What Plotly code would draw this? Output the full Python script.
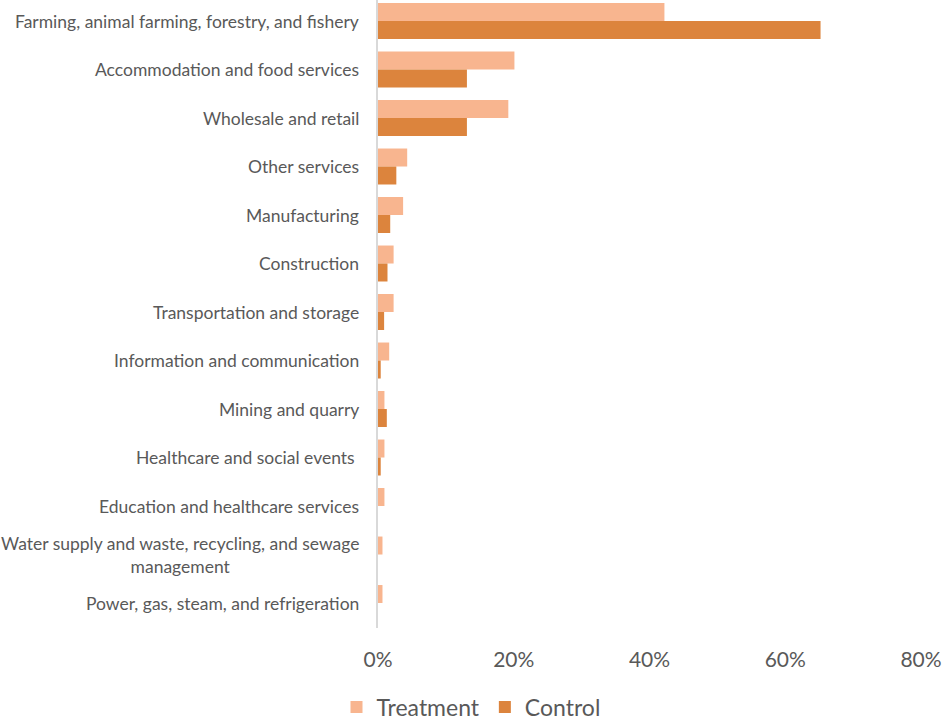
import plotly.graph_objects as go

# Sector distribution of respondents (share of group, %)
categories = [
    "Farming, animal farming, forestry, and fishery",
    "Accommodation and food services",
    "Wholesale and retail",
    "Other services",
    "Manufacturing",
    "Construction",
    "Transportation and storage",
    "Information and communication",
    "Mining and quarry",
    "Healthcare and social events ",
    "Education and healthcare services",
    "Water supply and waste, recycling, and sewage<br>management",
    "Power, gas, steam, and refrigeration",
]
treatment = [42.2, 20.1, 19.2, 4.3, 3.7, 2.3, 2.3, 1.65, 0.95, 0.95, 0.95, 0.66, 0.66]
control = [65.2, 13.1, 13.1, 2.7, 1.8, 1.4, 0.9, 0.4, 1.3, 0.4, 0.0, 0.0, 0.0]
x_ticks = [0, 20, 40, 60, 80]
x_tick_labels = ["0%", "20%", "40%", "60%", "80%"]

TEXT = "#595959"
FONT = "Lato"

fig = go.Figure()
fig.add_trace(go.Bar(
    y=list(range(len(categories))), x=treatment, orientation="h", name="Treatment",
    marker=dict(color="#F8B58F", line=dict(width=0)),
))
fig.add_trace(go.Bar(
    y=list(range(len(categories))), x=control, orientation="h", name="Control",
    marker=dict(color="#DC843D", line=dict(width=0)),
))

# Category labels drawn as annotations so wrapped lines are centred
for i, label in enumerate(categories):
    fig.add_annotation(
        x=0, xref="paper", y=i, yref="y", text=label, showarrow=False,
        xanchor="right", yanchor="middle", align="center", xshift=-17,
        font=dict(family=FONT, size=17.5, color=TEXT),
    )

fig.update_layout(
    width=942, height=720,
    margin=dict(l=378, r=21, t=0, b=92),
    paper_bgcolor="white", plot_bgcolor="white",
    barmode="group", bargap=0.258, bargroupgap=0,
    font=dict(family=FONT, color=TEXT),
    xaxis=dict(
        range=[0, 80], tickvals=x_ticks, ticktext=x_tick_labels,
        showgrid=False, zeroline=False, showline=False, ticks="",
        tickfont=dict(family=FONT, size=21, color=TEXT),
        ticklabelstandoff=17, ticklabeloverflow="allow",
    ),
    yaxis=dict(
        range=[12.515, -0.433], showticklabels=False, ticks="",
        showgrid=False, zeroline=False,
        showline=True, linecolor="#D9D9D9", linewidth=2,
    ),
    legend=dict(
        orientation="h", xref="container", yref="container",
        x=0.5, xanchor="center", y=0.018, yanchor="middle",
        font=dict(family=FONT, size=23, color=TEXT),
        itemwidth=30, traceorder="normal",
    ),
    showlegend=True,
)

fig.write_html("out.html")
